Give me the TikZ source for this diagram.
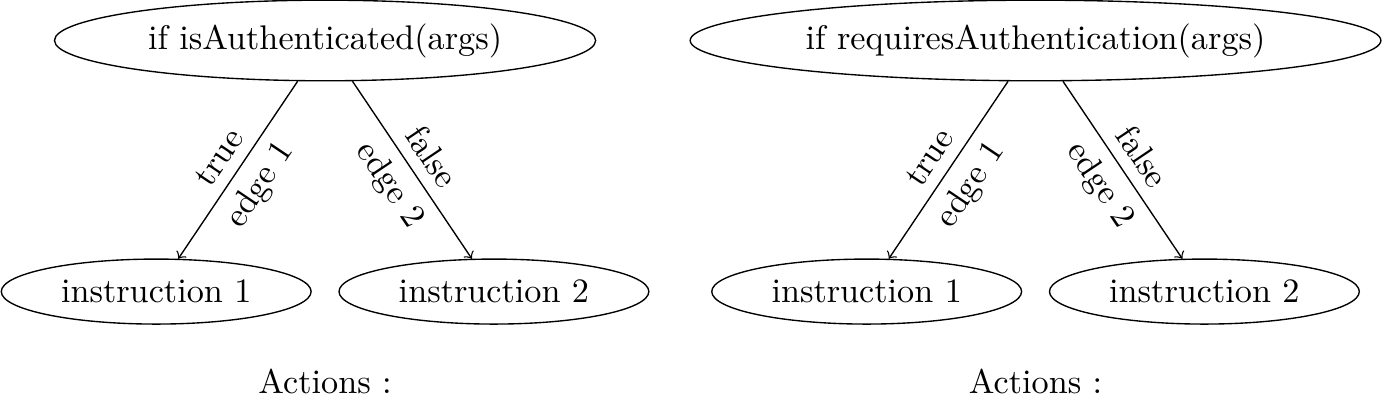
\documentclass[tikz,border=0pt]{standalone}
\usepackage{tikz}
\usetikzlibrary{shapes.geometric}
\tikzset{
  condnode/.style  = {ellipse,draw,thin,inner xsep=4.2pt},
  instrnode/.style = {ellipse,draw,thin,inner xsep=4.2pt},
  brancharr/.style = {->,thin},
  edgelbl/.style   = {sloped,midway}
}
\newcommand{\condtree}[3]{%
  \node[condnode]  (#1root) at (#2,-0.416)       {#3};
  \node[instrnode] (#1ia)   at (#2-1.735,-2.996) {instruction 1};
  \node[instrnode] (#1ib)   at (#2+1.735,-2.996) {instruction 2};
  \draw[brancharr] (#1root) -- node[edgelbl,above]{true}  node[edgelbl,below]{edge 1} (#1ia);
  \draw[brancharr] (#1root) -- node[edgelbl,above]{false} node[edgelbl,below]{edge 2} (#1ib);
  \node[anchor=base] (#1cap) at (#2,-4.04) {Actions :};
}

\begin{document}
\begin{tikzpicture}
  \useasboundingbox (0,0) rectangle (14.20,-4.214);
  \condtree{l}{3.34}{if isAuthenticated(args)}
  \condtree{r}{10.64}{if requiresAuthentication(args)}
\end{tikzpicture}
\end{document}
